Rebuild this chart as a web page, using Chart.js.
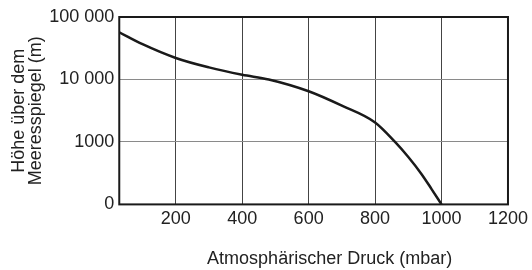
<!DOCTYPE html>
<html>
<head>
<meta charset="utf-8">
<script src="https://cdn.jsdelivr.net/npm/chart.js@4/dist/chart.umd.min.js"></script>
<style>
    html, body { margin: 0; padding: 0; background: #fff; }
    #wrap { width: 532px; height: 270px; }
</style>
</head>
<body>
<div id="wrap"><canvas id="druckChart"></canvas></div>
<script>
// Luftdruck (mbar) und Höhe (m)
const pressure = [30, 100, 200, 300, 400, 480, 600, 700, 800, 860, 900, 940, 970, 1000];
const height = [57000, 36700, 22100, 15600, 11900, 10000, 6480, 3810, 2050, 1000, 574, 305, 176, 0];

// Achsen
const xTicks = [200, 400, 600, 800, 1000, 1200];
const yTicks = [100, 1000, 10000, 100000];
const yTickLabels = ['0', '1000', '10 000', '100 000'];

const X_MIN = 30, X_MAX = 1200;
const Y_MIN = 100, Y_MAX = 100000; // unterster Strich steht für 0 m

const FONT = '"Liberation Sans", Arial, sans-serif';
const xTitle = 'Atmosphärischer Druck (mbar)';

// Höhe 0 liegt auf der logarithmischen Achse ganz unten
const points = pressure.map((p, i) => ({ x: p, y: Math.max(height[i], Y_MIN) }));

const framePlugin = {
    id: 'frame',
    afterDraw(chart) {
        const { ctx, chartArea: a } = chart;
        ctx.save();
        ctx.strokeStyle = '#1a1a1a';
        ctx.lineWidth = 2;
        ctx.strokeRect(a.left, a.top, a.right - a.left, a.bottom - a.top);
        // x-Achsentitel
        ctx.fillStyle = '#222';
        ctx.font = '18px ' + FONT;
        ctx.textAlign = 'center';
        ctx.textBaseline = 'middle';
        ctx.fillText(xTitle, (a.left + a.right) / 2 + 16, 259);
        ctx.restore();
    }
};

new Chart(document.getElementById('druckChart'), {
    type: 'line',
    data: {
        datasets: [{
            data: points,
            borderColor: '#1a1a1a',
            borderWidth: 2.5,
            pointRadius: 0,
            fill: false,
            cubicInterpolationMode: 'monotone'
        }]
    },
    options: {
        responsive: true,
        maintainAspectRatio: false,
        animation: false,
        layout: { padding: { left: 10, right: 19, top: 17, bottom: 36 } },
        plugins: { legend: { display: false }, tooltip: { enabled: false } },
        scales: {
            x: {
                type: 'linear',
                min: X_MIN,
                max: X_MAX,
                afterBuildTicks: (scale) => { scale.ticks = xTicks.map(v => ({ value: v })); },
                grid: { color: '#444', lineWidth: 1, drawTicks: false },
                border: { display: false },
                ticks: {
                    color: '#222',
                    padding: 4,
                    font: { family: FONT, size: 18 },
                    maxRotation: 0,
                    callback: (v) => String(v)
                }
            },
            y: {
                type: 'logarithmic',
                min: Y_MIN,
                max: Y_MAX,
                afterBuildTicks: (scale) => { scale.ticks = yTicks.map(v => ({ value: v })); },
                grid: { color: '#8a8a8a', lineWidth: 1, drawTicks: false },
                border: { display: false },
                ticks: {
                    color: '#222',
                    padding: 5,
                    font: { family: FONT, size: 18 },
                    callback: (v) => yTickLabels[yTicks.indexOf(v)]
                },
                title: {
                    display: true,
                    text: ['Höhe über dem', 'Meeresspiegel (m)'],
                    color: '#222',
                    font: { family: FONT, size: 18, lineHeight: 0.95 },
                    padding: { top: 0, bottom: 0 }
                }
            }
        }
    },
    plugins: [framePlugin]
});
</script>
</body>
</html>
